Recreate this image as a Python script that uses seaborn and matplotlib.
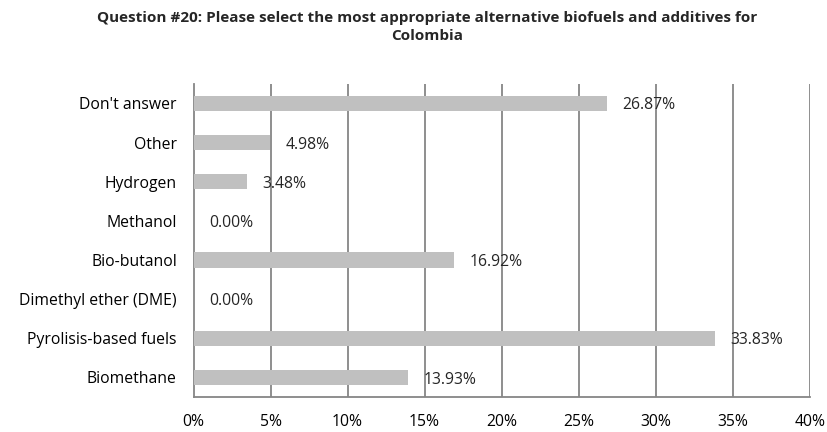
import matplotlib
matplotlib.use("Agg")
import matplotlib.pyplot as plt
import seaborn as sns
import pandas as pd
from matplotlib.ticker import FuncFormatter

categories = ["Don't answer", "Other", "Hydrogen", "Methanol", "Bio-butanol",
              "Dimethyl ether (DME)", "Pyrolisis-based fuels", "Biomethane"]
shares = [26.87, 4.98, 3.48, 0.00, 16.92, 0.00, 33.83, 13.93]
x_ticks = [0, 5, 10, 15, 20, 25, 30, 35, 40]

df = pd.DataFrame({"category": categories, "share": shares})

sns.set_style("white")
plt.rcParams["font.family"] = ["Open Sans", "DejaVu Sans"]

fig = plt.figure(figsize=(8.27, 4.32), dpi=100)
ax = fig.add_axes([0.234, 0.081, 0.745, 0.725])

grid_col = "#868686"
sns.barplot(data=df, x="share", y="category", order=categories, orient="h",
            color="#C0C0C0", saturation=1, width=0.39, linewidth=0,
            ax=ax, zorder=3)

ax.set_xlim(0, 40)
ax.set_xticks(x_ticks)
ax.xaxis.set_major_formatter(FuncFormatter(lambda v, p: f"{v:.0f}%"))
for t in x_ticks[1:]:
    ax.axvline(t, color=grid_col, lw=1.3, zorder=1)

ax.set_xlabel("")
ax.set_ylabel("")
for s in ["top", "right"]:
    ax.spines[s].set_visible(False)
for s in ["left", "bottom"]:
    ax.spines[s].set_color(grid_col)
    ax.spines[s].set_linewidth(1.3)

# category boundary ticks on the y axis
ax.set_yticks([i - 0.5 for i in range(len(categories) + 1)], minor=True)
ax.tick_params(axis="y", which="major", length=0, labelsize=11.3, pad=12, colors="black")
ax.tick_params(axis="y", which="minor", length=5, width=1.3, color=grid_col, direction="out")
ax.tick_params(axis="x", length=5, width=1.3, color=grid_col, labelsize=11.3, pad=7, labelcolor="black")

for i, v in enumerate(shares):
    ax.annotate(f"{v:.2f}%", xy=(v, i), xytext=(11, -1.5), textcoords="offset points",
                va="center", ha="left", fontsize=11.3, zorder=4)

fig.text(0.516, 0.938,
         "Question #20: Please select the most appropriate alternative biofuels and additives for\nColombia",
         ha="center", va="center", fontsize=11, fontweight="bold", linespacing=1.35)

fig.savefig("out.png", dpi=100)
